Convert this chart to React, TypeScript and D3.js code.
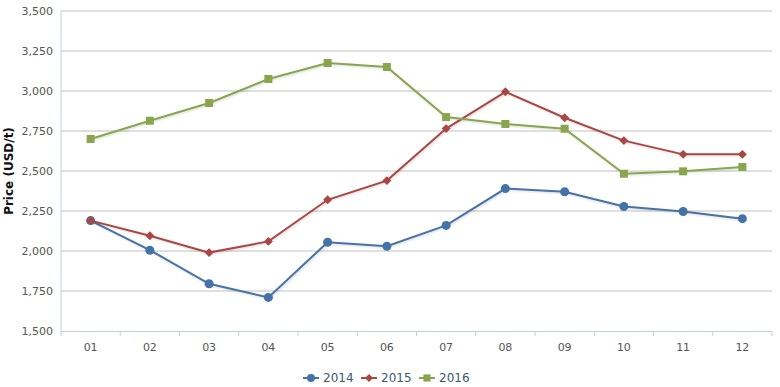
import React from 'react';
import * as d3 from 'd3';

const months = ['01', '02', '03', '04', '05', '06', '07', '08', '09', '10', '11', '12'];
const price2014 = [2190, 2005, 1795, 1710, 2055, 2030, 2160, 2390, 2370, 2278, 2247, 2202];
const price2015 = [2190, 2095, 1990, 2060, 2320, 2440, 2765, 2995, 2833, 2690, 2604, 2604];
const price2016 = [2700, 2814, 2925, 3075, 3175, 3150, 2837, 2794, 2764, 2483, 2498, 2525];
const yTicks = [1500, 1750, 2000, 2250, 2500, 2750, 3000, 3250, 3500];

// highcharts-style diamond: a square turned 45deg, as wide as tall
const diamond = {
  draw(ctx: d3.Path, size: number) {
    const r = Math.sqrt(size / 2);
    ctx.moveTo(0, -r);
    ctx.lineTo(r, 0);
    ctx.lineTo(0, r);
    ctx.lineTo(-r, 0);
    ctx.closePath();
  },
};

const seriesList = [
  { name: '2014', values: price2014, color: '#4572a7', symbol: d3.symbolCircle, size: 64 },
  { name: '2015', values: price2015, color: '#aa4643', symbol: diamond, size: 40 },
  { name: '2016', values: price2016, color: '#89a54e', symbol: d3.symbolSquare, size: 64 },
];

const W = 780;
const H = 387;
const left = 61;
const right = 772;
const top = 11;
const bottom = 331;
const font = '"DejaVu Sans", Verdana, sans-serif';

export default function App() {
  const x = d3.scaleBand<string>().domain(months).range([left, right]);
  const y = d3.scaleLinear().domain([1500, 3500]).range([bottom, top]);
  const fmt = d3.format(',');
  const line = d3.line<number>()
    .x((_, i) => x(months[i])! + x.bandwidth() / 2)
    .y(d => y(d));

  const legendStart = 303;
  const legendGap = 58;

  return (
    <svg width={W} height={H} style={{ position: 'absolute', left: 0, top: 0, background: '#fff' }}>
      <defs>
        <filter id="shadow" x="-10%" y="-10%" width="120%" height="130%">
          <feDropShadow dx="1" dy="1" stdDeviation="1" floodColor="#000" floodOpacity="0.15" />
        </filter>
      </defs>
      {yTicks.map(t => (
        <g key={t}>
          {t !== 1500 && (
            <line x1={left} x2={right} y1={y(t)} y2={y(t)} stroke="#c0c0c0" strokeWidth={1} />
          )}
          <text x={53} y={y(t)} dy="0.35em" textAnchor="end" fontFamily={font} fontSize={11} fill="#555">
            {fmt(t)}
          </text>
        </g>
      ))}
      <line x1={left} x2={left} y1={top} y2={bottom} stroke="#c0d0e0" strokeWidth={1} />
      <line x1={left} x2={right} y1={bottom + 0.5} y2={bottom + 0.5} stroke="#c0d0e0" strokeWidth={1} />
      {months.map((m, i) => (
        <g key={m}>
          <line x1={x(m)! + x.bandwidth()} x2={x(m)! + x.bandwidth()} y1={bottom} y2={bottom + 5}
            stroke="#c0d0e0" strokeWidth={1} />
          {i === 0 && <line x1={left} x2={left} y1={bottom} y2={bottom + 5} stroke="#c0d0e0" />}
          <text x={x(m)! + x.bandwidth() / 2} y={bottom + 16} dy="0.35em" textAnchor="middle"
            fontFamily={font} fontSize={11} fill="#555">{m}</text>
        </g>
      ))}
      <text transform={`translate(9,${(top + bottom) / 2}) rotate(-90)`} textAnchor="middle" dy="0.35em"
        fontFamily={font} fontSize={12} fontWeight="bold" fill="#111">Price (USD/t)</text>
      {seriesList.map(s => (
        <g key={s.name}>
          <path d={line(s.values)!} fill="none" stroke={s.color} strokeWidth={2} filter="url(#shadow)" />
          {s.values.map((v, i) => (
            <path key={i} d={d3.symbol().type(s.symbol).size(s.size)()!}
              transform={`translate(${x(months[i])! + x.bandwidth() / 2},${y(v)})`} fill={s.color} />
          ))}
        </g>
      ))}
      {seriesList.map((s, i) => {
        const lx = legendStart + i * legendGap;
        return (
          <g key={s.name} transform={`translate(${lx},378)`}>
            <line x1={0} x2={16} y1={0} y2={0} stroke={s.color} strokeWidth={2} />
            <path d={d3.symbol().type(s.symbol).size(s.size * 0.8)()!} transform="translate(8,0)" fill={s.color} />
            <text x={20} y={0} dy="0.35em" fontFamily={font} fontSize={12} fill="#3e576f">{s.name}</text>
          </g>
        );
      })}
    </svg>
  );
}
